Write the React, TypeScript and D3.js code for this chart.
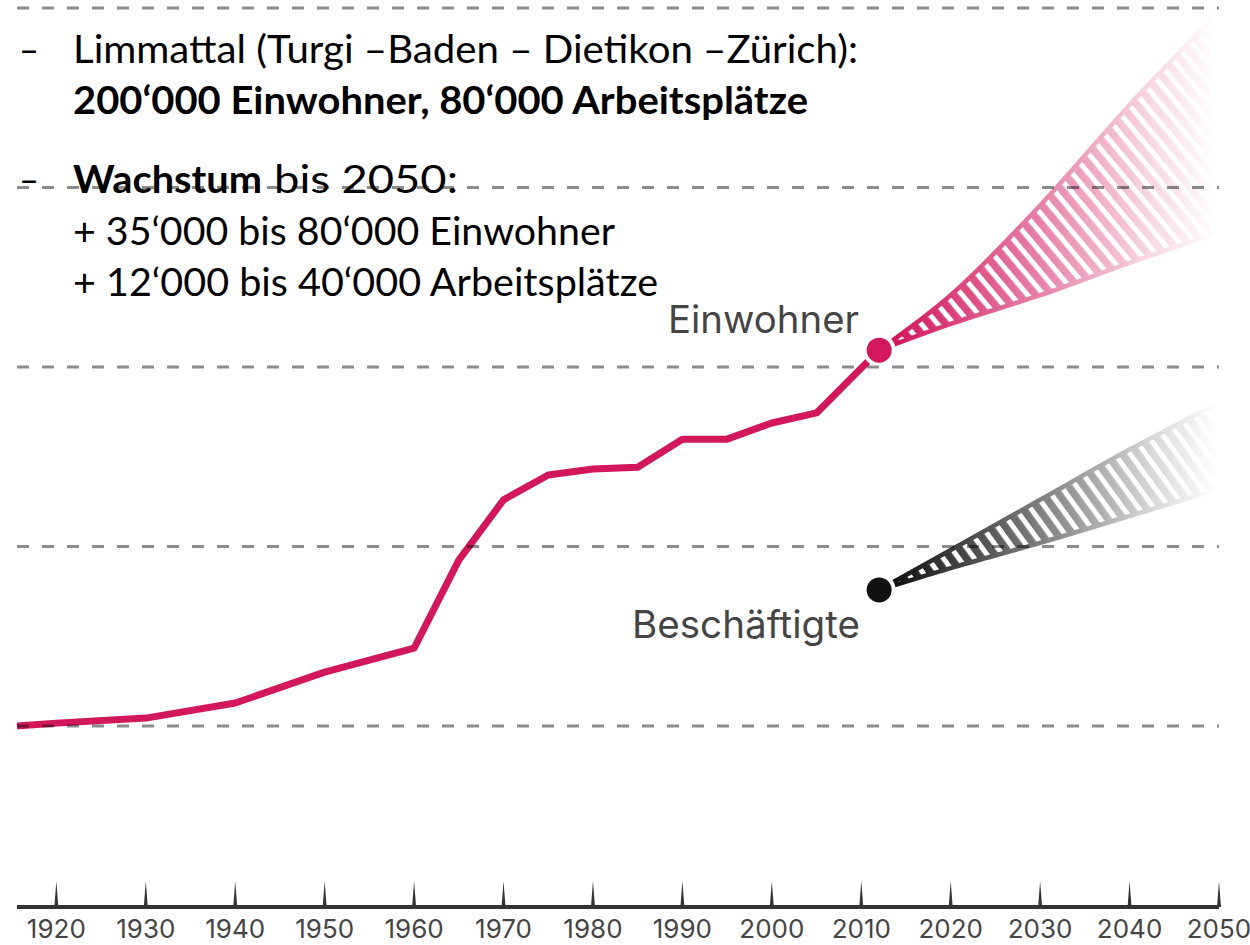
import React, { useEffect, useRef } from "react";
import * as d3 from "d3";

// Einwohner Limmattal (in Tausend)
const yearStart = 1915.6;
const yearEnd = 2050;
const years = [1915.6, 1920, 1930, 1940, 1950, 1960, 1965, 1970, 1975, 1980, 1985, 1990, 1995, 2000, 2005, 2012];
const einwohner = [100, 100.8, 102.2, 106.4, 115, 121.7, 146.2, 163, 169.9, 171.6, 172.1, 179.9, 179.9, 184.4, 187.2, 204.7];

// Prognose bis 2050
const projYears = [2012, 2020, 2030, 2040, 2050];
const einwohnerLow = [204.7, 212, 220, 229, 237.5];
const einwohnerHigh = [204.7, 220, 245, 273, 299];
const beschLow = [137.9, 144, 151, 158.5, 166];
const beschHigh = [137.9, 149, 163, 177, 190];

const gridValues = [100, 150, 200, 250, 300];
const tickYears = [1920, 1930, 1940, 1950, 1960, 1970, 1980, 1990, 2000, 2010, 2020, 2030, 2040, 2050];
const tickLabels = ["1920", "1930", "1940", "1950", "1960", "1970", "1980", "1990", "2000", "2010", "2020", "2030", "2040", "2050"];

const headline = "Limmattal (Turgi –Baden – Dietikon –Zürich):";
const headlineBold = "200‘000 Einwohner, 80‘000 Arbeitsplätze";
const growthBold = "Wachstum";
const growthRest = "bis 2050:";
const growthLines = ["+ 35‘000 bis 80‘000 Einwohner", "+ 12‘000 bis 40‘000 Arbeitsplätze"];

const colorRed = "#d2175a";
const colorBlack = "#111111";
const colorLabel = "#454545";

const App = () => {
    const svgRef = useRef<SVGSVGElement>(null);

    useEffect(() => {
        const svg = d3.select(svgRef.current);
        svg.selectAll("*").remove();

        const width = 1250;
        const height = 945;
        svg.attr("width", width).attr("height", height);

        const x = d3.scaleLinear().domain([yearStart, yearEnd]).range([17, 1219]);
        const y = d3.scaleLinear().domain([100, 300]).range([726, 8]);

        const defs = svg.append("defs");

        // fade out of the forecast fans
        const grad = defs
            .append("linearGradient")
            .attr("id", "fadeGrad")
            .attr("gradientUnits", "userSpaceOnUse")
            .attr("x1", x(2012) + 15)
            .attr("x2", x(2050) - 2)
            .attr("y1", 0)
            .attr("y2", 0);
        grad.append("stop").attr("offset", 0).attr("stop-color", "#fff");
        grad.append("stop").attr("offset", 0.45).attr("stop-color", "#8a8a8a");
        grad.append("stop").attr("offset", 0.8).attr("stop-color", "#2a2a2a");
        grad.append("stop").attr("offset", 1).attr("stop-color", "#000");

        defs
            .append("mask")
            .attr("id", "fadeMask")
            .attr("maskUnits", "userSpaceOnUse")
            .attr("x", 0)
            .attr("y", 0)
            .attr("width", width)
            .attr("height", height)
            .append("rect")
            .attr("width", width)
            .attr("height", height)
            .attr("fill", "url(#fadeGrad)");

        const addPattern = (id: string, color: string, angle: number) => {
            defs
                .append("pattern")
                .attr("id", id)
                .attr("patternUnits", "userSpaceOnUse")
                .attr("width", 12.5)
                .attr("height", 12.5)
                .attr("patternTransform", `rotate(${angle})`)
                .append("rect")
                .attr("width", 7.5)
                .attr("height", 12.5)
                .attr("fill", color);
        };
        addPattern("stripesRed", colorRed, -40);
        addPattern("stripesBlack", colorBlack, -36);

        // Einwohner line
        const line = d3
            .line<number>()
            .x((d, i) => x(years[i]))
            .y((d) => y(d));

        svg.append("path")
            .datum(einwohner)
            .attr("d", line)
            .attr("fill", "none")
            .attr("stroke", colorRed)
            .attr("stroke-width", 7)
            .attr("stroke-linejoin", "round");

        // forecast fans
        const drawFan = (lows: number[], highs: number[], color: string, pattern: string) => {
            const g = svg.append("g").attr("mask", "url(#fadeMask)");
            const area = d3
                .area<number>()
                .x((d, i) => x(projYears[i]))
                .y0((d, i) => y(lows[i]))
                .y1((d) => y(d))
                .curve(d3.curveMonotoneX);
            g.append("path").datum(highs).attr("d", area).attr("fill", `url(#${pattern})`);

            const edge = d3
                .line<number>()
                .x((d, i) => x(projYears[i]))
                .y((d) => y(d))
                .curve(d3.curveMonotoneX);
            [lows, highs].forEach((vals) => {
                g.append("path")
                    .datum(vals)
                    .attr("d", edge)
                    .attr("fill", "none")
                    .attr("stroke", color)
                    .attr("stroke-width", 4.5);
            });
        };
        drawFan(einwohnerLow, einwohnerHigh, colorRed, "stripesRed");
        drawFan(beschLow, beschHigh, colorBlack, "stripesBlack");

        // dots
        [
            { v: einwohnerLow[0], c: colorRed },
            { v: beschLow[0], c: colorBlack },
        ].forEach((d) => {
            svg.append("circle").attr("cx", x(2012)).attr("cy", y(d.v)).attr("r", 16.5).attr("fill", "#fff");
            svg.append("circle").attr("cx", x(2012)).attr("cy", y(d.v)).attr("r", 12.5).attr("fill", d.c);
        });

        // dashed grid lines (on top)
        svg.append("g")
            .selectAll("line")
            .data(gridValues)
            .enter()
            .append("line")
            .attr("x1", x(yearStart))
            .attr("x2", x(yearEnd))
            .attr("y1", (d) => y(d))
            .attr("y2", (d) => y(d))
            .attr("stroke", "rgba(0,0,0,0.45)")
            .attr("stroke-width", 3)
            .attr("stroke-dasharray", "12 13");

        // series labels
        const labelFont = "Inter, 'Noto Sans', sans-serif";
        svg.append("text")
            .attr("x", 668)
            .attr("y", 333)
            .attr("textLength", 191)
            .attr("lengthAdjust", "spacingAndGlyphs")
            .style("font-family", labelFont)
            .style("font-size", "38px")
            .style("fill", colorLabel)
            .text("Einwohner");
        svg.append("text")
            .attr("x", 632)
            .attr("y", 638)
            .attr("textLength", 228)
            .attr("lengthAdjust", "spacingAndGlyphs")
            .style("font-family", labelFont)
            .style("font-size", "38px")
            .style("fill", colorLabel)
            .text("Beschäftigte");

        // x axis
        const axisY = 907;
        svg.append("line")
            .attr("x1", x(yearStart))
            .attr("x2", x(yearEnd))
            .attr("y1", axisY)
            .attr("y2", axisY)
            .attr("stroke", "#333")
            .attr("stroke-width", 4);

        svg.append("g")
            .selectAll("path")
            .data(tickYears)
            .enter()
            .append("path")
            .attr("d", (d) => `M${x(d) - 2},${axisY} L${x(d)},${axisY - 26} L${x(d) + 2},${axisY} Z`)
            .attr("fill", "#333");

        svg.append("g")
            .selectAll("text")
            .data(tickYears)
            .enter()
            .append("text")
            .attr("x", (d) => x(d))
            .attr("y", 938)
            .attr("text-anchor", "middle")
            .style("font-family", labelFont)
            .style("font-size", "26px")
            .style("fill", colorLabel)
            .text((d, i) => tickLabels[i]);

        // bullet text
        const bodyFont = "Lato, 'Open Sans', sans-serif";
        const addText = (str: string, tx: number, ty: number, len: number, bold: boolean) => {
            const t = svg
                .append("text")
                .attr("x", tx)
                .attr("y", ty)
                .style("font-family", bodyFont)
                .style("font-size", "38px")
                .style("font-weight", bold ? 700 : 400)
                .style("fill", "#000")
                .text(str);
            if (len > 0) t.attr("textLength", len).attr("lengthAdjust", "spacingAndGlyphs");
        };

        addText("–", 19, 63, 20, false);
        addText(headline, 73, 63, 785, false);
        addText(headlineBold, 73, 114, 735, true);
        addText("–", 19, 193, 20, false);
        addText(growthBold, 73, 193, 189, true);
        addText(growthRest, 274, 193, 184, false);
        addText(growthLines[0], 73, 245, 542, false);
        addText(growthLines[1], 73, 296, 585, false);
    }, []);

    return (
        <svg
            ref={svgRef}
            style={{ position: "absolute", left: 0, top: 0, display: "block", background: "#fff" }}
        ></svg>
    );
};

export default App;
